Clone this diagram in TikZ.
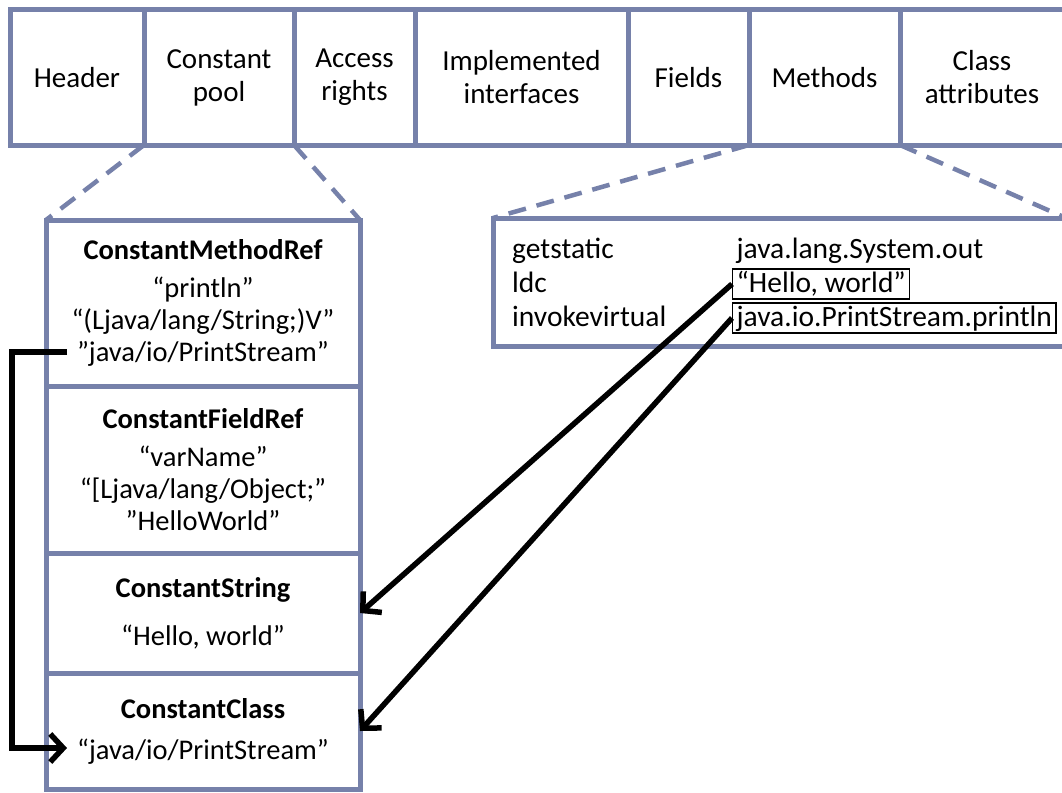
\documentclass[tikz,border=0pt]{standalone}
\usepackage{fontspec}
\setmainfont{Carlito}
\usetikzlibrary{arrows.meta}
\usetikzlibrary{positioning}
\definecolor{slate}{RGB}{118,129,170}
\tikzset{cell/.style={draw=slate, line width=5pt, outer sep=0pt, inner sep=0pt,
    align=center, minimum height=135pt, font=\fontsize{29}{33}\selectfont}}
\tikzset{entry/.style={draw=slate, line width=5pt, outer sep=0pt, inner sep=0pt,
    align=center, minimum width=314pt, font=\fontsize{28.5}{32}\selectfont}}
\tikzset{zoomline/.style={draw=slate, line width=4.5pt, dash pattern=on 18pt off 11pt}}
\tikzset{ref/.style={draw=black, line width=5.5pt,
    -{Straight Barb[length=13pt,width=28pt]}}}
\tikzset{opcode/.style={anchor=base west, inner sep=0pt, font=\fontsize{29.5}{34}\selectfont}}
\tikzset{operand/.style={anchor=base west, inner xsep=4pt, inner ysep=1pt,
    text height=22pt, text depth=6pt, draw=black, line width=1.2pt,
    font=\fontsize{29.5}{34}\selectfont}}

\begin{document}
\begin{tikzpicture}[x=1pt,y=-1pt]
		\useasboundingbox (0,0) rectangle (1062,792);
		% class file layout
		\node[cell, minimum width=134pt, anchor=north west] (header) at (10,10) {Header};
		\node[cell, minimum width=150pt, right=0pt of header] (cpool) {Constant\\pool};
		\node[cell, minimum width=121pt, right=0pt of cpool] (access) {Access\\rights};
		\node[cell, minimum width=213pt, right=0pt of access] (ifaces) {Implemented\\interfaces};
		\node[cell, minimum width=121pt, right=0pt of ifaces] (fields) {Fields};
		\node[cell, minimum width=151pt, right=0pt of fields] (methods) {Methods};
		\node[cell, minimum width=164pt, right=0pt of methods] (cattr) {Class\\attributes};
		% constant pool entries
		\node[entry, minimum height=166pt, anchor=north west] (mref) at (46,220)
			{\textbf{ConstantMethodRef}\\[6pt]“println”\\“(Ljava/lang/String;)V”\\”java/io/PrintStream”};
		\node[entry, minimum height=167pt, below=0pt of mref] (fref)
			{\textbf{ConstantFieldRef}\\[6pt]“varName”\\“[Ljava/lang/Object;”\\”HelloWorld”};
		\node[entry, minimum height=120pt, below=0pt of fref] (cstring)
			{\textbf{ConstantString}\\[16pt]“Hello, world”};
		\node[entry, minimum height=116pt, below=0pt of cstring] (cclass)
			{\textbf{ConstantClass}\\[9pt]“java/io/PrintStream”};
		% method code
		\node[draw=slate, line width=5pt, outer sep=0pt, minimum width=573pt,
			minimum height=128pt, anchor=north west] (code) at (493,218) {};
		\node[opcode] (getstatic) at (512,258) {getstatic};
		\node[opcode] (ldc) at (512,292) {ldc};
		\node[opcode] (invoke) at (512,326) {invokevirtual};
		\node[operand, draw=none] (sysout) at (732,258) {java.lang.System.out};
		\node[operand] (hello) at (732,292) {“Hello, world”};
		\node[operand] (println) at (732,326) {java.io.PrintStream.println};
		% zoom lines
		\draw[zoomline] (header.south east) -- (mref.north west);
		\draw[zoomline] (cpool.south east) -- (mref.north east);
		\draw[zoomline] (methods.south west) -- (code.north west);
		\draw[zoomline] (methods.south east) -- (code.north east);
		% references
		\draw[ref] (hello.west) -- (cstring.east);
		\draw[ref] (println.west) -- (cclass.east);
		\coordinate (psref) at (67,352);
		\coordinate (psclass) at (67,748);
		\draw[ref] (psref) -- ++(-55,0) |- (psclass);
\end{tikzpicture}
\end{document}
